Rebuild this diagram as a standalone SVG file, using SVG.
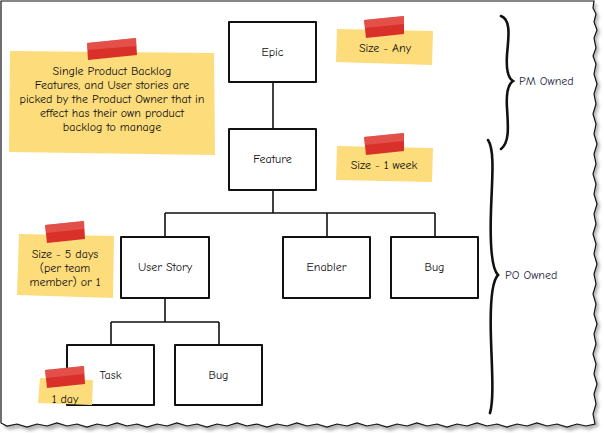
<svg xmlns="http://www.w3.org/2000/svg" width="604" height="433" viewBox="0 0 604 433">
<defs>
<style>
text{font-family:"Comic Neue","Liberation Sans",Arial,sans-serif;font-size:12px;fill:#111;text-anchor:middle}
.box{fill:#fff;stroke:#111;stroke-width:2;stroke-linejoin:round}
.conn{fill:none;stroke:#111;stroke-width:1.6}
.note{fill:#fddc7c}
.tape{fill:#d9302a}
.tapehi{fill:#e8665f;opacity:0.6}
.brace{fill:none;stroke:#111;stroke-width:2.6;stroke-linecap:round}
.lbl{fill:#1f2a44;text-anchor:start}
</style>
<filter id="sh" x="-5%" y="-5%" width="110%" height="110%"><feGaussianBlur stdDeviation="1.5"/></filter>
</defs>
<g id="paper">
<path d="M4,4 L597,4 L596,10 L599,16 L597,24 L600,32 L597,40 L599,50 L596,58 L599,66 L597,76 L600,86 L597,96 L599,106 L596,116 L599,126 L597,136 L600,146 L597,156 L599,166 L596,176 L599,186 L597,196 L600,206 L597,216 L599,226 L596,236 L599,246 L597,256 L600,266 L597,276 L599,286 L596,296 L599,306 L597,316 L600,326 L597,336 L599,346 L596,356 L599,366 L597,376 L600,386 L597,396 L599,406 L596,416 L599,426 L590,430 L580,428 L570,431 L560,428 L550,430 L540,427 L530,430 L520,428 L510,431 L500,428 L490,430 L480,427 L470,430 L460,428 L450,431 L440,428 L430,430 L420,427 L410,430 L400,428 L390,431 L380,428 L370,430 L360,427 L350,430 L340,428 L330,431 L320,428 L310,430 L300,427 L290,430 L280,428 L270,431 L260,428 L250,430 L240,427 L230,430 L220,428 L210,431 L200,428 L190,430 L180,427 L170,430 L160,428 L150,431 L140,428 L130,430 L120,427 L110,430 L100,428 L90,431 L80,428 L70,430 L60,427 L50,430 L40,428 L30,431 L20,428 L10,430 L4,427 Z" fill="#888" opacity="0.6" filter="url(#sh)"/>
<path d="M1,1 L594,1 L593,8 L596,14 L594,22 L597,30 L594,38 L596,48 L593,56 L596,64 L594,74 L597,84 L594,94 L596,104 L593,114 L596,124 L594,134 L597,144 L594,154 L596,164 L593,174 L596,184 L594,194 L597,204 L594,214 L596,224 L593,234 L596,244 L594,254 L597,264 L594,274 L596,284 L593,294 L596,304 L594,314 L597,324 L594,334 L596,344 L593,354 L596,364 L594,374 L597,384 L594,394 L596,404 L593,414 L595,424 L586,426 L577,424 L567,427 L557,424 L547,426 L537,423 L527,426 L517,424 L507,427 L497,424 L487,426 L477,423 L467,426 L457,424 L447,427 L437,424 L427,426 L417,423 L407,426 L397,424 L387,427 L377,424 L367,426 L357,423 L347,426 L337,424 L327,427 L317,424 L307,426 L297,423 L287,426 L277,424 L267,427 L257,424 L247,426 L237,423 L227,426 L217,424 L207,427 L197,424 L187,426 L177,423 L167,426 L157,424 L147,427 L137,424 L127,426 L117,423 L107,426 L97,424 L87,427 L77,424 L67,426 L57,423 L47,426 L37,424 L27,427 L17,424 L7,426 L1,423 Z" fill="#fff" stroke="#111" stroke-width="1.2"/>
</g>
<g id="connectors">
<path class="conn" d="M273,82 L273,129"/>
<path class="conn" d="M273,190 L273,213 M165,213 L435,213 M165,213 L165,237 M327,213 L327,237 M435,213 L435,237"/>
<path class="conn" d="M165,298 L165,322 M111,322 L219,322 M111,322 L111,345 M219,322 L219,345"/>
</g>
<g id="epic"><rect class="box" x="229" y="22" width="87" height="60"/><text x="272.5" y="56">Epic</text></g>
<g id="feature"><rect class="box" x="229" y="129" width="87" height="61"/><text x="272.5" y="163">Feature</text></g>
<g id="userstory"><rect class="box" x="121" y="237" width="88" height="61"/><text x="165" y="271">User Story</text></g>
<g id="enabler"><rect class="box" x="283" y="237" width="87" height="61"/><text x="326.5" y="271">Enabler</text></g>
<g id="bug1"><rect class="box" x="391" y="237" width="87" height="61"/><text x="434.5" y="271">Bug</text></g>
<g id="task"><rect class="box" x="67" y="345" width="87" height="60"/><text x="110.5" y="379">Task</text></g>
<g id="bug2"><rect class="box" x="175" y="345" width="87" height="60"/><text x="218.5" y="379">Bug</text></g>
<g id="note-main">
<path class="note" d="M10,51 L214,53 L215,155 L9,152 Z"/>
<path class="tape" d="M87,43 L136,38 L137,55 L88,60 Z"/>
<path class="tapehi" d="M87,43 L136,38 L136,46 L87,50 Z"/>
<text x="112" y="75">Single Product Backlog</text>
<text x="112" y="89">Features, and User stories are</text>
<text x="112" y="103">picked by the Product Owner that in</text>
<text x="112" y="117">effect has their own product</text>
<text x="112" y="131">backlog to manage</text>
</g>
<g id="note-any">
<path class="note" d="M337,29 L433,31 L432,65 L336,62 Z"/>
<path class="tape" d="M364,20 L404,16 L404,34 L366,38 Z"/>
<path class="tapehi" d="M364,20 L404,16 L404,24 L365,28 Z"/>
<text x="385" y="52">Size - Any</text>
</g>
<g id="note-week">
<path class="note" d="M337,146 L433,148 L432,182 L336,180 Z"/>
<path class="tape" d="M364,137 L404,133 L404,151 L366,155 Z"/>
<path class="tapehi" d="M364,137 L404,133 L404,141 L365,145 Z"/>
<text x="384" y="169">Size - 1 week</text>
</g>
<g id="note-5days">
<path class="note" d="M19,234 L114,236 L113,298 L17,295 Z"/>
<path class="tape" d="M45,225 L84,221 L85,239 L47,243 Z"/>
<path class="tapehi" d="M45,225 L84,221 L84,229 L46,233 Z"/>
<text x="65" y="258">Size - 5 days</text>
<text x="65" y="272">(per team</text>
<text x="65" y="286">member) or 1</text>
</g>
<g id="note-1day">
<path class="note" d="M40,378 L93,380 L92,405 L38,403 Z"/>
<path class="tape" d="M45,370 L84,366 L85,384 L47,388 Z"/>
<path class="tapehi" d="M45,370 L84,366 L84,374 L46,378 Z"/>
<text x="65" y="403">1 day</text>
</g>
<g id="pm-owned">
<path class="brace" d="M501,16 C512,20 508,40 507,55 C506,70 508,78 513,81 C508,84 506,92 507,108 C508,125 510,142 501,149"/>
<text class="lbl" x="519" y="85">PM Owned</text>
</g>
<g id="po-owned">
<path class="brace" d="M488,140 C495,150 492,180 491,210 C490,240 491,268 498,275 C491,282 490,310 491,340 C492,370 494,400 490,413"/>
<text class="lbl" x="505" y="279">PO Owned</text>
</g>
</svg>
